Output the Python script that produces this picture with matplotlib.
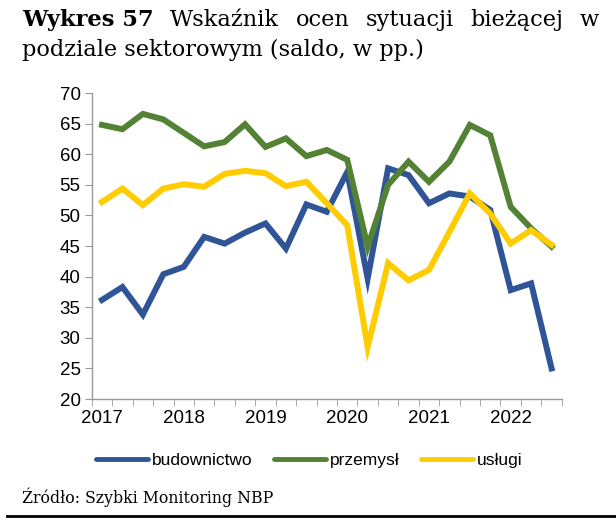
import matplotlib
matplotlib.use('Agg')
import numpy as np
import matplotlib.pyplot as plt

# quarterly data 2017Q1 - 2022Q3
years = ['2017', '2018', '2019', '2020', '2021', '2022']
budownictwo = [36.2, 38.3, 33.8, 40.4, 41.6, 46.5, 45.4, 47.2, 48.7, 44.6, 51.8, 50.6,
               57.1, 39.7, 57.7, 56.6, 52.0, 53.6, 53.1, 50.9, 37.8, 38.9, 25.0]
przemysl = [64.8, 64.1, 66.6, 65.7, 63.5, 61.3, 62.0, 64.9, 61.2, 62.6, 59.7, 60.7,
            59.1, 44.9, 55.0, 58.8, 55.5, 58.8, 64.8, 63.1, 51.4, 47.9, 44.9]
uslugi = [52.2, 54.4, 51.7, 54.4, 55.1, 54.7, 56.8, 57.3, 56.9, 54.8, 55.5, 52.0,
          48.4, 28.5, 42.2, 39.4, 41.1, 47.3, 53.6, 50.3, 45.4, 47.6, 45.2]

x = np.arange(len(budownictwo))
sans = 'Liberation Sans'

fig = plt.figure(figsize=(6.16, 5.26), dpi=100)
ax = fig.add_axes([0.149, 0.2414, 0.763, 0.5816])

ax.plot(x, budownictwo, color='#2F5597', lw=4.3, label='budownictwo', solid_joinstyle='miter')
ax.plot(x, przemysl, color='#548235', lw=4.3, label='przemysł', solid_joinstyle='miter')
ax.plot(x, uslugi, color='#FFCC00', lw=4.3, label='usługi', solid_joinstyle='miter')

ax.set_xlim(-0.5, len(x) - 0.5)
ax.set_ylim(20, 70)
ax.set_yticks(range(20, 71, 5))
ax.set_xticks(np.arange(0, len(x), 4))
ax.set_xticklabels(years)
ax.set_xticks(np.arange(-0.5, len(x), 1), minor=True)

for s in ['top', 'right']:
    ax.spines[s].set_visible(False)
for s in ['left', 'bottom']:
    ax.spines[s].set_color('#999999')
    ax.spines[s].set_linewidth(1.0)

ax.tick_params(axis='x', which='major', length=0, pad=8, labelsize=13.5)
ax.tick_params(axis='x', which='minor', length=5, color='#999999', direction='out')
ax.tick_params(axis='y', length=5, color='#999999', direction='out', labelsize=13.5, pad=3)
for lab in ax.get_xticklabels() + ax.get_yticklabels():
    lab.set_family(sans)

leg = fig.legend(loc='center', bbox_to_anchor=(0.502, 0.124), ncol=3, frameon=False,
                 prop={'family': sans, 'size': 12.5},
                 handlelength=3.0, handletextpad=0.2, columnspacing=1.25)
for h in leg.get_lines():
    h.set_linewidth(3.5)
    h.set_solid_capstyle('round')

# title, first line justified between 22 and 599 px
serif = 'DejaVu Serif'
ty = 1 - 20 / 526
renderer = fig.canvas.get_renderer()
words = [('Wykres 57', 'bold'), ('Wskaźnik', 'normal'), ('ocen', 'normal'),
         ('sytuacji', 'normal'), ('bieżącej', 'normal'), ('w', 'normal')]
texts = [fig.text(0, ty, w, fontsize=16.2, fontweight=fw, family=serif,
                  va='center', ha='left') for w, fw in words]
widths = [t.get_window_extent(renderer).width for t in texts]
left, right = 22, 599
gap = (right - left - sum(widths)) / (len(words) - 1)
pos = left
for t, w in zip(texts, widths):
    t.set_x(pos / 616)
    pos += w + gap
fig.text(22 / 616, 1 - 50 / 526, 'podziale sektorowym (saldo, w pp.)', fontsize=16.2,
         family=serif, va='center', ha='left')

fig.text(22 / 616, 1 - 497 / 526, 'Źródło: Szybki Monitoring NBP', fontsize=11.3,
         family=serif, va='center', ha='left')
fig.add_artist(plt.Line2D([7 / 616, 1], [1 - 516 / 526, 1 - 516 / 526], color='black', lw=2))

fig.savefig('out.png', dpi=100)
